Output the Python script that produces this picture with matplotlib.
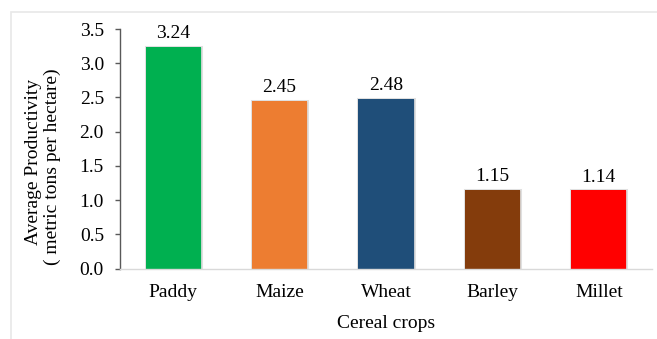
import matplotlib
matplotlib.use("Agg")
import matplotlib.pyplot as plt
import matplotlib.patheffects as pe
from matplotlib.patches import Rectangle

crops = ["Paddy", "Maize", "Wheat", "Barley", "Millet"]
productivity = [3.24, 2.45, 2.48, 1.15, 1.14]
colors = ["#00b050", "#ed7d31", "#1f4e79", "#843c0c", "#ff0000"]
yticks = [0.0, 0.5, 1.0, 1.5, 2.0, 2.5, 3.0, 3.5]

plt.rcParams["font.family"] = ["Liberation Serif", "DejaVu Serif"]
plt.rcParams["font.size"] = 14

W, H = 657, 339
fig = plt.figure(figsize=(W / 100, H / 100), dpi=100)
fig.patch.set_facecolor("white")

# faint outer chart frame
fig.patches.append(Rectangle((10.5 / W, -0.1), 1.2, 1.1 - 11.5 / H,
                             transform=fig.transFigure, fill=False,
                             edgecolor="#e8e8e8", linewidth=1.2, zorder=0))

ax = fig.add_axes([120 / W, 1 - 268.5 / H, 532 / W, (268.5 - 29) / H])

x = list(range(len(crops)))
bars = ax.bar(x, productivity, width=0.52, color=colors, zorder=3)
for b in bars:
    b.set_path_effects([pe.Stroke(linewidth=2.2, foreground="#c8c8c8", alpha=0.55),
                        pe.Normal()])

for xi, v in zip(x, productivity):
    ax.annotate(f"{v:.2f}", (xi, v), xytext=(0, 9.5), textcoords="offset points",
                ha="center", va="center", fontsize=14)

ax.set_xlim(-0.5, len(crops) - 0.5)
ax.set_ylim(0, 3.5)
ax.set_yticks(yticks)
ax.set_yticklabels([f"{t:.1f}" for t in yticks])
ax.set_xticks(x)
ax.set_xticklabels(crops)

ax.spines["top"].set_visible(False)
ax.spines["right"].set_visible(False)
ax.spines["left"].set_color("#595959")
ax.spines["left"].set_linewidth(1.0)
ax.spines["bottom"].set_color("#d9d9d9")
ax.spines["bottom"].set_linewidth(1.0)
ax.spines["bottom"].set_zorder(4)
ax.tick_params(axis="y", length=3.6, width=1.0, color="#595959", pad=8)
ax.tick_params(axis="x", length=0, pad=11)

# two-line y axis title
fig.text(34 / W, 1 - 162 / H, "Average Productivity", rotation=90,
         ha="center", va="center", fontsize=14)
fig.text(52 / W, 1 - 167 / H, "( metric tons per hectare)", rotation=90,
         ha="center", va="center", fontsize=14)

fig.text((120 + 532 / 2) / W, 1 - 323 / H, "Cereal crops",
         ha="center", va="center", fontsize=14)

fig.savefig("out.png", dpi=100, facecolor="white")
